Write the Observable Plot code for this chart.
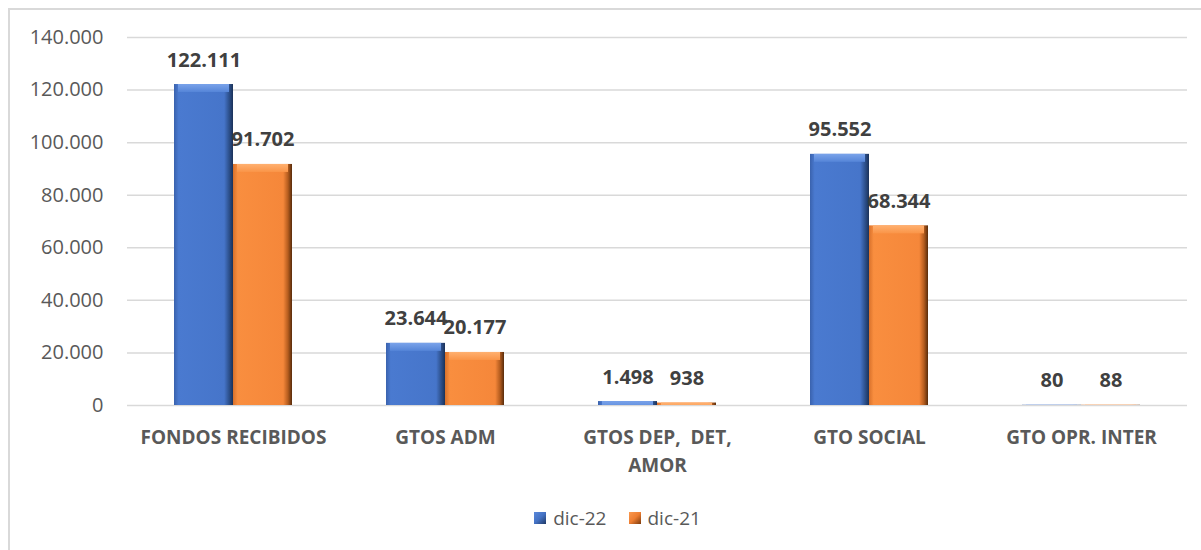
<!DOCTYPE html>
<html>
<head>
<meta charset="utf-8">
<script src="https://cdn.jsdelivr.net/npm/d3@7"></script>
<script src="https://cdn.jsdelivr.net/npm/@observablehq/plot@0.6"></script>
<style>
  html, body { margin: 0; padding: 0; background: #fff; width: 1201px; height: 550px; overflow: hidden; }
  #wrap { position: relative; width: 1201px; height: 550px; font-family: "Open Sans", sans-serif; }
  #frame { position: absolute; left: 8px; top: 8px; width: 1300px; height: 700px; border-left: 2px solid #d9d9d9; border-top: 2px solid #d9d9d9; box-sizing: border-box; }
  #chart { position: absolute; left: 0; top: 0; }
  #legend { position: absolute; left: 0; top: 505px; width: 1201px; display: flex; justify-content: center; padding-left: 34px; box-sizing: border-box; gap: 22px; font-size: 19px; color: #595959; }
  .item { display: flex; align-items: center; gap: 7px; }
  .sw { width: 12px; height: 12px; display: inline-block; }
</style>
</head>
<body>
<div id="wrap">
  <div id="frame"></div>
  <div id="chart"></div>
  <div id="legend"></div>
</div>
<script>
// ---- data ----
const categories = ["FONDOS RECIBIDOS", "GTOS ADM", "GTOS DEP,  DET, AMOR", "GTO SOCIAL", "GTO OPR. INTER"];
const categoryLabels = ["FONDOS RECIBIDOS", "GTOS ADM", "GTOS DEP,  DET,\nAMOR", "GTO SOCIAL", "GTO OPR. INTER"];
const series = ["dic-22", "dic-21"];
const dic22 = [122111, 23644, 1498, 95552, 80];
const dic21 = [91702, 20177, 938, 68344, 88];
const yTicks = [0, 20000, 40000, 60000, 80000, 100000, 120000, 140000];
const seriesColors = ["url(#gBlue)", "url(#gOrange)"];
const seriesTopColors = ["url(#gBlueTop)", "url(#gOrangeTop)"];

const fmt = d3.formatLocale({decimal: ",", thousands: ".", grouping: [3], currency: ["", ""]}).format(",d");

const data = categories.flatMap((c, i) => [
  {category: c, series: series[0], value: dic22[i]},
  {category: c, series: series[1], value: dic21[i]}
]);

const barMarks = series.flatMap((s, i) => {
  const sub = data.filter(d => d.series === s);
  return [
    Plot.barY(sub, {fx: "category", x: "series", y: "value", fill: seriesColors[i]}),
    Plot.barY(sub, {fx: "category", x: "series", y1: "value", y2: "value", insetBottom: -8, insetLeft: 4, insetRight: 4,
      fill: seriesTopColors[i], clip: true})
  ];
});

const chart = Plot.plot({
  width: 1201,
  height: 495,
  marginLeft: 127,
  marginRight: 14,
  marginTop: 37,
  marginBottom: 90,
  style: {fontFamily: "'Open Sans', sans-serif", background: "transparent", overflow: "visible"},
  fx: {domain: categories, padding: 0, label: null},
  x: {domain: series, paddingInner: 0, paddingOuter: 0.78, axis: null},
  y: {domain: [0, 140000], label: null},
  marks: [
    Plot.gridY(yTicks, {stroke: "#d9d9d9", strokeOpacity: 1, strokeWidth: 1.5}),
    Plot.axisY(yTicks, {tickSize: 0, tickPadding: 24, fontSize: 20, fill: "#595959", tickFormat: fmt, label: null}),
    Plot.axisFx({anchor: "bottom", tickSize: 0, tickPadding: 19, fontSize: 19, fontWeight: "bold", fill: "#595959",
      lineHeight: 1.45, label: null, tickFormat: d => categoryLabels[categories.indexOf(d)]}),
    ...barMarks,
    Plot.text(data, {fx: "category", x: "series", y: "value", text: d => fmt(d.value), lineAnchor: "bottom",
      dy: -18, fontSize: 20, fontWeight: "bold", fill: "#404040"})
  ]
});

// gradient defs for bevel look
const ns = "http://www.w3.org/2000/svg";
const defs = document.createElementNS(ns, "defs");
function grad(id, stops, vertical) {
  const g = document.createElementNS(ns, "linearGradient");
  g.setAttribute("id", id);
  g.setAttribute("x1", "0"); g.setAttribute("y1", "0");
  g.setAttribute("x2", vertical ? "0" : "1"); g.setAttribute("y2", vertical ? "1" : "0");
  for (const [o, c] of stops) {
    const s = document.createElementNS(ns, "stop");
    s.setAttribute("offset", o); s.setAttribute("stop-color", c);
    g.appendChild(s);
  }
  defs.appendChild(g);
}
grad("gBlue", [[0, "#3a62ad"], [0.08, "#4a7ad0"], [0.85, "#4675ca"], [0.93, "#2e528f"], [1, "#1b3259"]]);
grad("gOrange", [[0, "#d8712b"], [0.08, "#f98e3f"], [0.85, "#f5873a"], [0.93, "#b65d1f"], [1, "#582c0b"]]);
grad("gBlueTop", [[0, "#7aa3ea"], [1, "#5585d8"]], true);
grad("gOrangeTop", [[0, "#ffb070"], [1, "#fa9548"]], true);
chart.insertBefore(defs, chart.firstChild);
document.getElementById("chart").appendChild(chart);

// legend
const legend = document.getElementById("legend");
const swatchBg = ["linear-gradient(135deg, #5a88da 0%, #4472c4 50%, #1f3864 100%)",
                  "linear-gradient(135deg, #fa9a50 0%, #ed7d31 50%, #7a3a0c 100%)"];
series.forEach((s, i) => {
  const it = document.createElement("div");
  it.className = "item";
  const sw = document.createElement("span");
  sw.className = "sw";
  sw.style.background = swatchBg[i];
  const t = document.createElement("span");
  t.textContent = s;
  it.appendChild(sw); it.appendChild(t);
  legend.appendChild(it);
});
</script>
</body>
</html>
